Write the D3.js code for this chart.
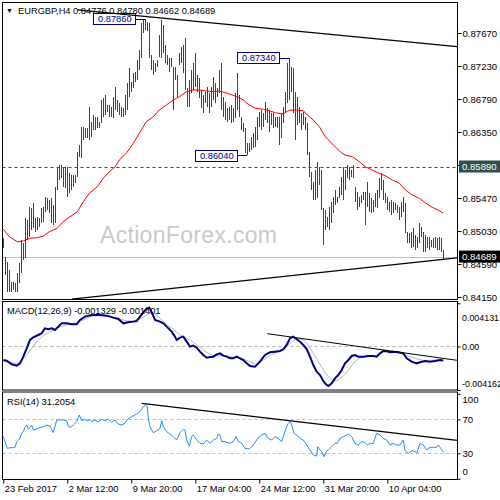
<!DOCTYPE html>
<html><head><meta charset="utf-8">
<script src="https://cdn.jsdelivr.net/npm/d3@7"></script>
<style>body{margin:0;background:#fff}svg{display:block}text{font-family:"Liberation Sans",Arial,sans-serif}</style>
</head><body><svg id="c" width="500" height="500"></svg>
<script>
// ---- data ----
const quote = {sym:"EURGBP,H4", o:0.84776, h:0.84780, l:0.84662, c:0.84689};
const highs = [0.84932,0.84688,0.84622,0.84510,0.84354,0.84354,0.84332,0.84466,0.84599,0.84910,
0.84866,0.85199,0.85177,0.85355,0.85333,0.85399,0.85199,0.85221,0.85199,0.85333,
0.85355,0.85488,0.85466,0.85444,0.85466,0.85377,0.85622,0.85866,0.85910,0.85910,
0.85866,0.85888,0.85888,0.85799,0.85777,0.85777,0.85777,0.86088,0.86177,0.86421,
0.86421,0.86399,0.86399,0.86688,0.86488,0.86577,0.86555,0.86555,0.86488,0.86777,
0.86799,0.86843,0.86710,0.86710,0.86688,0.86821,0.86955,0.86777,0.86732,0.86688,
0.86666,0.86843,0.86999,0.87199,0.87021,0.87132,0.87154,0.87310,0.87443,0.87799,
0.87844,0.87860,0.87822,0.87799,0.87377,0.87310,0.87266,0.87310,0.87644,0.87844,
0.87777,0.87510,0.87377,0.87332,0.87332,0.87221,0.87221,0.87110,0.87399,0.87488,
0.87510,0.87599,0.86932,0.87043,0.87177,0.87266,0.87399,0.87110,0.87066,0.86910,
0.86843,0.86888,0.86955,0.86866,0.86955,0.87088,0.86999,0.86932,0.87177,0.87266,
0.86821,0.86755,0.86666,0.86688,0.86710,0.86666,0.86866,0.87132,0.86843,0.86555,
0.86466,0.86399,0.86199,0.86199,0.86288,0.86332,0.86421,0.86555,0.86621,0.86643,
0.86599,0.86755,0.86666,0.86643,0.86599,0.86599,0.86555,0.86555,0.86555,0.86599,
0.86688,0.86888,0.87266,0.87340,0.87221,0.87199,0.86888,0.86821,0.86688,0.86599,
0.86621,0.86555,0.86466,0.86088,0.85821,0.85688,0.85844,0.85955,0.85888,0.85844,
0.85333,0.85310,0.85221,0.85355,0.85421,0.85488,0.85577,0.85488,0.85622,0.85755,
0.85888,0.85844,0.85910,0.85888,0.85844,0.85910,0.85622,0.85555,0.85488,0.85510,
0.85555,0.85555,0.85688,0.85533,0.85466,0.85444,0.85533,0.85577,0.85733,0.85799,
0.85710,0.85533,0.85488,0.85421,0.85444,0.85421,0.85399,0.85377,0.85355,0.85421,
0.85488,0.85399,0.85021,0.84999,0.85021,0.85066,0.84977,0.84955,0.85132,0.85088,
0.85021,0.84977,0.84955,0.84955,0.84910,0.84932,0.84955,0.84932,0.84955,0.84932,
0.84780];
const lows = [0.84799,0.84444,0.84221,0.84221,0.84221,0.84243,0.84221,0.84221,0.84332,0.84466,
0.84644,0.84666,0.84910,0.84954,0.85043,0.85066,0.85021,0.85043,0.85088,0.85132,
0.85155,0.85288,0.85310,0.85266,0.85132,0.85110,0.85132,0.85577,0.85711,0.85733,
0.85622,0.85599,0.85488,0.85533,0.85577,0.85622,0.85666,0.85755,0.86021,0.86000,
0.86243,0.86266,0.86266,0.86243,0.86288,0.86377,0.86377,0.86399,0.86399,0.86466,
0.86555,0.86577,0.86621,0.86555,0.86555,0.86532,0.86643,0.86621,0.86577,0.86555,
0.86555,0.86577,0.86643,0.86821,0.86888,0.86932,0.87021,0.87043,0.87177,0.87332,
0.87666,0.87710,0.87700,0.87332,0.87177,0.87110,0.87154,0.87221,0.87355,0.87332,
0.87399,0.87266,0.87244,0.87154,0.87221,0.86643,0.87043,0.86821,0.87244,0.87266,
0.87132,0.86910,0.86688,0.86688,0.86866,0.86910,0.86955,0.86888,0.86799,0.86666,
0.86599,0.86732,0.86688,0.86599,0.86688,0.86777,0.86732,0.86821,0.86866,0.86643,
0.86555,0.86510,0.86488,0.86510,0.86466,0.86488,0.86532,0.86643,0.86555,0.86377,
0.86355,0.86066,0.86040,0.86088,0.86110,0.86132,0.86155,0.86243,0.86421,0.86377,
0.86421,0.86510,0.86466,0.86355,0.86444,0.86399,0.86421,0.86399,0.86177,0.86266,
0.86466,0.86599,0.86732,0.86777,0.86888,0.86599,0.86243,0.86444,0.86466,0.86377,
0.86444,0.86377,0.86044,0.85755,0.85577,0.85444,0.85444,0.85466,0.85644,0.85310,
0.84843,0.85043,0.85088,0.85043,0.85132,0.85266,0.85377,0.85399,0.85466,0.85510,
0.85444,0.85577,0.85733,0.85711,0.85755,0.85733,0.85421,0.85310,0.85355,0.85399,
0.85444,0.85110,0.85355,0.85288,0.85266,0.85288,0.85355,0.85333,0.85466,0.85577,
0.85444,0.85399,0.85310,0.85288,0.85244,0.85266,0.85310,0.85266,0.85177,0.85221,
0.85288,0.84999,0.84866,0.84866,0.84799,0.84821,0.84777,0.84799,0.84866,0.84955,
0.84755,0.84755,0.84799,0.84777,0.84821,0.84799,0.84799,0.84777,0.84777,0.84755,
0.84662];
const maPts = [[0,0.85053],[3,0.84954],[7,0.84887],[10,0.84897],[13,0.84933],[17,0.84941],[20,0.84963],[23,0.85021],[27,0.85066],[30,0.85154],
[33,0.85213],[37,0.85287],[40,0.85421],[43,0.85533],[47,0.85621],[50,0.85733],[53,0.85821],[56,0.85887],[58,0.85977],[61.5,0.86066],
[65,0.86199],[68,0.86333],[71.5,0.86487],[75,0.86554],[78,0.86643],[81.5,0.86710],[85,0.86777],[88,0.86821],[91.5,0.86887],[95,0.86910],
[98,0.86910],[101.5,0.86897],[105,0.86887],[108,0.86897],[112,0.86866],[116,0.86830],[120,0.86777],[123,0.86710],[126,0.86666],[130,0.86653],
[133,0.86634],[136,0.86607],[140,0.86590],[143,0.86643],[146,0.86643],[150,0.86634],[152,0.86577],[155,0.86510],[158,0.86421],[161,0.86287],
[165,0.86177],[169,0.86074],[171,0.86043],[174.5,0.86021],[178,0.85954],[181,0.85887],[184.5,0.85843],[188,0.85799],[191,0.85767],[194.5,0.85710],
[198,0.85666],[201,0.85577],[204.5,0.85510],[208,0.85466],[211,0.85407],[214.5,0.85346],[218,0.85301],[220,0.85266]];
const macdPts = [[0,-0.001292],[1.7,-0.001356],[4.2,-0.001707],[6.7,-0.001834],[8.35,-0.001611],[10,-0.000973],[11.7,-0.000175],[13.35,0.000622],[15,0.000877],[17.5,0.001101],[19.2,0.00126],[20.85,0.001739],[22.5,0.001643],[24.2,0.001739],[25.85,0.001579],[27.5,0.001898],[29.2,0.002217],[31.7,0.002217],[34.2,0.002121],[36.7,0.002121],[38.35,0.002536],[40.85,0.002855],[44.2,0.003015],[48.35,0.003015],[51.7,0.002951],[55,0.002759],[57.5,0.002632],[60,0.002217],[62.5,0.002313],[65,0.002377],[66.7,0.00244],[68.35,0.002855],[70.35,0.003334],[71.7,0.003653],[73,0.003716],[74.2,0.00327],[75.85,0.002536],[78.35,0.002377],[80,0.002217],[81.7,0.001898],[84.2,0.00142],[85.85,0.000941],[86.7,0.000622],[88.35,0.000845],[90,0.000941],[91.7,0.000463],[93.35,-0.000016],[95,0.00008],[96.7,-0.000112],[98.35,-0.000494],[100,-0.000813],[101.7,-0.001069],[103.35,-0.001005],[105,-0.000973],[106.7,-0.00075],[108.35,-0.000654],[110,-0.000877],[111.7,-0.000973],[113.35,-0.001132],[115,-0.001132],[116.7,-0.000973],[118.35,-0.001132],[120,-0.001292],[121.7,-0.001611],[123.35,-0.001866],[125.85,-0.00193],[128.35,-0.001451],[130.85,-0.000813],[133.35,-0.000558],[135.85,-0.000494],[138.35,-0.000431],[140,-0.000271],[141.7,0.000144],[143.35,0.000782],[145,0.000941],[146.7,0.000686],[148.35,0.000463],[150,0.000144],[151.7,-0.000239],[153.35,-0.000973],[155,-0.00177],[156.7,-0.002408],[158.35,-0.002727],[160,-0.003302],[161.35,-0.003621],[162.5,-0.00378],[164.2,-0.003525],[165.85,-0.003046],[167.5,-0.002727],[169.2,-0.002249],[170.85,-0.001611],[172.5,-0.001292],[174.2,-0.000909],[175.85,-0.000813],[177.5,-0.000973],[180,-0.000973],[182.5,-0.000909],[185,-0.000909],[186.7,-0.000973],[188.35,-0.000654],[190,-0.000431],[191.7,-0.000431],[193.35,-0.000558],[195,-0.000494],[197.5,-0.000558],[200,-0.000654],[201.7,-0.001132],[204.2,-0.001451],[206.7,-0.001611],[208.35,-0.001515],[210.85,-0.001388],[213.35,-0.001451],[215.85,-0.001388],[218.35,-0.001292],[220,-0.001329]];
const signalPts = [[0,-0.001451],[3.35,-0.001515],[6.7,-0.001611],[9.2,-0.001388],[11.7,-0.000813],[14.2,-0.000175],[16.7,0.000463],[20,0.001037],[23.35,0.00142],[26.7,0.001739],[30,0.001994],[33.35,0.002121],[36.7,0.002281],[40,0.002536],[43.35,0.002855],[48.35,0.002951],[53.35,0.002887],[58.35,0.002632],[61.7,0.00244],[65,0.00244],[68.35,0.002632],[71.7,0.003015],[74.2,0.00327],[76.7,0.003015],[79.2,0.002536],[81.7,0.002121],[85,0.001643],[88.35,0.001101],[91.7,0.000782],[95,0.000399],[98.35,-0.00008],[101.7,-0.000558],[105,-0.000877],[108.35,-0.000877],[111.7,-0.000909],[115,-0.001005],[118.35,-0.001069],[121.7,-0.001324],[123.35,-0.001451],[126.7,-0.001707],[130,-0.001292],[133.35,-0.000877],[136.7,-0.000558],[140,-0.000335],[143.35,0.000303],[146.7,0.000782],[150,0.000622],[152.5,0.000144],[155,-0.000654],[157.5,-0.001451],[160,-0.002249],[162.5,-0.002887],[165,-0.003302],[167.5,-0.003206],[170,-0.002823],[172.5,-0.002249],[175,-0.001611],[177.5,-0.001196],[180,-0.000973],[183.35,-0.000941],[186.7,-0.000813],[190,-0.000558],[193.35,-0.000558],[196.7,-0.00059],[200,-0.00075],[203.35,-0.000973],[206.7,-0.001196],[210,-0.001324],[213.35,-0.001324],[216.7,-0.001292],[220,-0.001401]];
const rsiPts = [[0,49.6],[0.85,43.7],[2,35.8],[3.35,36.6],[5,36.6],[5.85,37],[6.7,43.7],[8,46.4],[9.2,53.5],[10,55.4],[10.85,60.5],[11.7,63.3],[12.5,58.2],[13.35,60.5],[14.2,63.3],[15,57.4],[16.7,58.6],[18.35,60.2],[20,61.3],[21.7,63.3],[23.35,62.1],[24.2,58.2],[25,54.3],[25.85,61.3],[26.7,69.2],[28.35,69.2],[30,69.2],[31.7,68.4],[32.5,61.3],[33.35,60.5],[35,63.3],[36.7,67.2],[38,75.1],[39.2,68.4],[40.85,69.9],[42,68],[43.35,69.9],[44.2,67.2],[45.85,69.2],[47.5,67.2],[49.2,69.9],[50.85,68.4],[52.5,70.3],[54.2,66.4],[55.85,69.2],[57.5,64.5],[59.2,63.3],[60.85,65.3],[61.7,69.2],[64.2,73.1],[66.7,76.2],[68.35,79],[70,84.9],[71.2,86.8],[72,84.9],[72.5,71.1],[73.35,61.3],[75,54.3],[76.7,56.6],[78.35,59.4],[79.2,68.4],[80,61.3],[81.7,55.4],[83.35,52.7],[85,49.6],[86.7,45.6],[88.35,54.3],[90,58.2],[90.85,57.4],[91.7,45.6],[93,38.6],[94.2,49.6],[95,51.5],[96.7,45.6],[98.35,41.7],[100,40.9],[101.7,45.6],[103.35,41.7],[105,45.6],[106.7,47.6],[107.5,52.7],[108.35,51.5],[109.2,43.7],[110.85,43.7],[113.35,41.7],[115,43.7],[116.35,49.6],[117.5,43.7],[119.2,41.7],[120.85,35.8],[122.5,35.1],[123.35,35.8],[125,39.8],[126.7,45.6],[128,49.6],[129.2,51.5],[130.85,53.5],[132.5,47.6],[134.2,45.6],[135.85,49.6],[137.5,47.6],[139.2,43.7],[140,49.6],[141.35,59.4],[142.5,65.3],[143.35,67.2],[144.2,63.3],[145.35,53.5],[146.7,51.5],[148.35,47.6],[150,45.6],[151.7,39.8],[153.35,33.9],[155,28],[156.7,26.8],[157.2,37.8],[158.35,33.9],[159.2,31.9],[160.35,26],[161.35,31.9],[162.5,33.9],[164.2,37.8],[165.85,41.7],[167,41.7],[168.35,47.6],[170,49.6],[172.5,52.7],[174.2,49.6],[175.85,41.7],[177.5,39.8],[179.2,43.7],[180.85,42.5],[182,39.8],[183.35,41.7],[185,41.7],[186.7,53.5],[188.35,51.5],[190,47.6],[191.7,45.6],[193.35,39.8],[195,41.7],[196.7,39.8],[198.35,39.8],[200,45.6],[200.85,33.1],[202.5,30],[204.2,33.1],[205.85,31.9],[206.7,30],[208.35,41.7],[210,39.8],[211.7,33.9],[213.35,37],[215,37],[216.7,37],[217.5,39.8],[218.7,35.8],[220,31.2054]];
const priceTicks = [0.8767,0.8723,0.8679,0.8635,0.8591,0.8547,0.8503,0.8459,0.8415];
const dateTicks = [0,32,64,96,128,160,192];
const dateLabels = ["23 Feb 2017","2 Mar 12:00","9 Mar 20:00","17 Mar 04:00","24 Mar 12:00","31 Mar 20:00","10 Apr 04:00"];
const levelPrice = 0.8589;
const peakLabels = [{i:71,p:0.8786},{i:143,p:0.8734},{i:122,p:0.8604}];
const upperTL = [[37,0.87977],[226.85,0.87487]];
const lowerTL = [[34.35,0.84123],[226.85,0.84671]];
const macdTL = [[132,0.001225],[226.85,-0.001321]];
const rsiTL = [[69.2,88.8],[226.85,45.1]];
const macdTicks = [0.004131,0,-0.004162];
const rsiTicks = [100,70,30,0];
const rsiLevels = [70,30];
const macdParams = "MACD(12,26,9)";
const rsiParams = "RSI(14)";

// ---- layout ----
const svg = d3.select("#c");
const L = 2.5, R = 457.5;
const P1 = {t:2.5, b:299.5}, P2 = {t:301.5, b:390}, P3 = {t:392, b:479.5};
const xs = d3.scaleLinear().domain([0,220]).range([3.3,443.3]);
const ys = d3.scaleLinear().domain([0.8415,0.8767]).range([297,33]);
const ym = d3.scaleLinear().domain([-0.004162,0.004131]).range([390,303.3]);
const yr = d3.scaleLinear().domain([0,100]).range([478.8,393.8]);
const bx = i => Math.round(xs(i)) + 0.5;

const defs = svg.append("defs");
[["c1",P1],["c2",P2],["c3",P3]].forEach(([id,p])=>{
  defs.append("clipPath").attr("id",id).append("rect").attr("x",L).attr("y",p.t).attr("width",R-L).attr("height",p.b-p.t);
});

// ---- main panel ----
const g1 = svg.append("g");
g1.append("text").attr("x",100).attr("y",243).attr("font-size",23).attr("textLength",177)
  .attr("fill","#cacaca").text("ActionForex.com");
g1.append("line").attr("x1",L).attr("x2",R).attr("y1",Math.round(ys(levelPrice))+0.5).attr("y2",Math.round(ys(levelPrice))+0.5)
  .attr("stroke","#2f4f4f").attr("stroke-dasharray","3,3");
g1.append("line").attr("x1",L).attr("x2",R).attr("y1",Math.round(ys(quote.c))+0.5).attr("y2",Math.round(ys(quote.c))+0.5)
  .attr("stroke","#c0c0c0");

const bars = highs.map((h,i)=>({i,h,l:lows[i]}));
g1.append("g").attr("shape-rendering","crispEdges").selectAll("line").data(bars).join("line")
  .attr("x1",d=>bx(d.i)).attr("x2",d=>bx(d.i))
  .attr("y1",d=>ys(d.h)).attr("y2",d=>Math.max(ys(d.l),ys(d.h)+1))
  .attr("stroke","#1c4d6b").attr("stroke-width",1);

const lineP = d3.line().x(d=>xs(d[0])).y(d=>ys(d[1]));
g1.append("path").attr("d",lineP(maPts)).attr("fill","none").attr("stroke","#ff0000").attr("stroke-width",1);

const tl = svg.append("g").attr("clip-path","url(#c1)");
[upperTL,lowerTL].forEach(t=>tl.append("path").attr("d",lineP(t)).attr("fill","none").attr("stroke","#000").attr("stroke-width",1.3));

// peak labels
peakLabels.forEach(d=>{
  const x = xs(d.i), y = ys(d.p), w = 42, h = 11, xr = x - 10;
  g1.append("line").attr("x1",xr).attr("x2",x).attr("y1",Math.round(y)+0.5).attr("y2",Math.round(y)+0.5).attr("stroke","#000080");
  g1.append("rect").attr("x",Math.round(xr-w)+0.5).attr("y",Math.round(y-h/2)+0.5).attr("width",w).attr("height",h)
    .attr("fill","#fff").attr("stroke","#000080");
  g1.append("text").attr("x",xr-w/2+0.5).attr("y",y+3.6).attr("text-anchor","middle")
    .attr("font-family","DejaVu Sans").attr("font-size",9.3).attr("fill","#000080").text(d.p.toFixed(5));
});

// price axis
const ax1 = svg.append("g").attr("transform",`translate(${R},0)`)
  .call(d3.axisRight(ys).tickValues(priceTicks).tickSize(4).tickPadding(1).tickFormat(d3.format(".5f")));
ax1.select(".domain").remove();
ax1.selectAll("text").attr("font-size",9.6).attr("font-family","Liberation Sans").attr("fill","#000");
ax1.selectAll("line").attr("stroke","#000");

// right-side price boxes
[[levelPrice,"#2f4f4f"],[quote.c,"#000"]].forEach(([p,col])=>{
  const y = ys(p);
  svg.append("rect").attr("x",459).attr("y",y-6).attr("width",41).attr("height",12).attr("fill",col);
  svg.append("text").attr("x",462).attr("y",y+3.4).attr("font-size",9.6).attr("fill","#fff").text(p.toFixed(5));
});

// header
svg.append("text").attr("x",6).attr("y",13).attr("font-size",7).attr("fill","#000").text("▼");
svg.append("text").attr("x",18).attr("y",14).attr("font-size",9.3).attr("fill","#000")
  .text(`${quote.sym} ${quote.o.toFixed(5)} ${quote.h.toFixed(5)} ${quote.l.toFixed(5)} ${quote.c.toFixed(5)}`);

// ---- MACD panel ----
const g2 = svg.append("g").attr("clip-path","url(#c2)");
g2.append("line").attr("x1",L).attr("x2",R).attr("y1",Math.round(ym(0))+0.5).attr("y2",Math.round(ym(0))+0.5)
  .attr("stroke","#b4b4b4").attr("stroke-dasharray","3,3");
const lineM = d3.line().x(d=>xs(d[0])).y(d=>ym(d[1]));
g2.append("path").attr("d",lineM(signalPts)).attr("fill","none").attr("stroke","#b8b8b8").attr("stroke-width",1);
g2.append("path").attr("d",lineM(macdPts)).attr("fill","none").attr("stroke","#000080").attr("stroke-width",2);
g2.append("path").attr("d",lineM(macdTL)).attr("fill","none").attr("stroke","#000").attr("stroke-width",1);
svg.append("text").attr("x",7).attr("y",314).attr("font-size",9.3).attr("fill","#000")
  .text(`${macdParams} ${macdPts[macdPts.length-1][1].toFixed(6)} ${signalPts[signalPts.length-1][1].toFixed(6)}`);
const ax2 = svg.append("g").attr("transform",`translate(${R},0)`)
  .call(d3.axisRight(ym).tickValues(macdTicks).tickSize(3).tickPadding(1.5).tickFormat(v=>v===0?"0.00":v.toFixed(6)));
ax2.select(".domain").remove();
ax2.selectAll("text").attr("font-size",8.9).attr("fill","#000")
  .attr("dy",v=>v>0?"1.95em":(v<0?"-0.45em":"0.35em"));
ax2.selectAll("line").attr("stroke","#000");

// ---- RSI panel ----
const g3 = svg.append("g").attr("clip-path","url(#c3)");
rsiLevels.forEach(v=>g3.append("line").attr("x1",L).attr("x2",R).attr("y1",Math.round(yr(v))+0.5).attr("y2",Math.round(yr(v))+0.5)
  .attr("stroke","#c0c0c0").attr("stroke-dasharray","3,3"));
const lineR = d3.line().x(d=>xs(d[0])).y(d=>yr(d[1]));
g3.append("path").attr("d",lineR(rsiPts)).attr("fill","none").attr("stroke","#1e90ff").attr("stroke-width",1);
g3.append("path").attr("d",lineR(rsiTL)).attr("fill","none").attr("stroke","#000").attr("stroke-width",1.2);
svg.append("text").attr("x",7).attr("y",405).attr("font-size",9.3).attr("fill","#000")
  .text(`${rsiParams} ${rsiPts[rsiPts.length-1][1].toFixed(4)}`);
const ax3 = svg.append("g").attr("transform",`translate(${R},0)`)
  .call(d3.axisRight(yr).tickValues(rsiTicks).tickSize(3).tickPadding(2).tickFormat(d3.format("d")));
ax3.select(".domain").remove();
ax3.selectAll("text").attr("font-size",9.6).attr("fill","#000")
  .attr("dy",v=>v===100?"0.9em":(v===0?"-0.4em":"0.32em"));
ax3.selectAll("line").attr("stroke","#000");

// ---- time axis ----
const axT = svg.append("g").attr("transform",`translate(0,${P3.b})`)
  .call(d3.axisBottom(xs).tickValues(dateTicks).tickSize(4).tickPadding(2).tickFormat((d,i)=>dateLabels[i]));
axT.select(".domain").remove();
axT.selectAll("text").attr("font-size",9.3).attr("fill","#000").attr("text-anchor","start").attr("dx","0.1em");
axT.selectAll("line").attr("stroke","#000");

// panel frames
[P1,P2,P3].forEach(p=>svg.append("rect").attr("x",L).attr("y",p.t).attr("width",R-L).attr("height",p.b-p.t)
  .attr("fill","none").attr("stroke","#000").attr("stroke-width",1));
</script></body></html>
